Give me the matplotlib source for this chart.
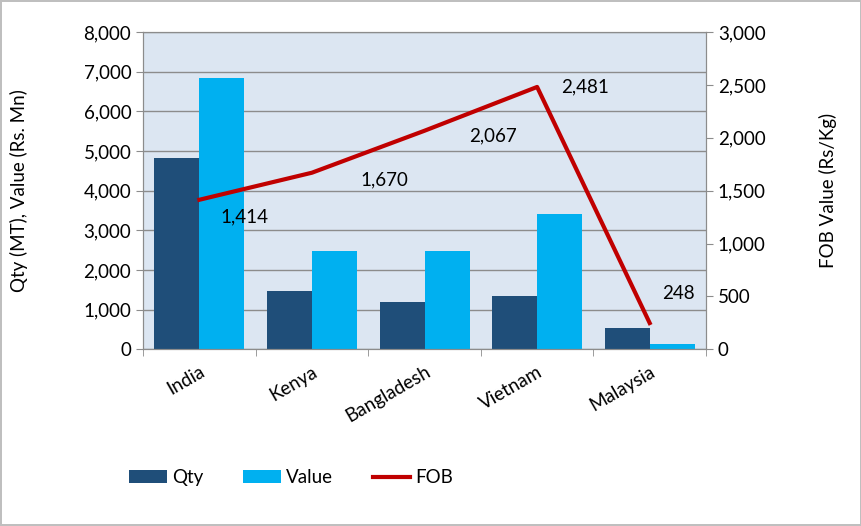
import numpy as np
import matplotlib.pyplot as plt
from matplotlib.ticker import FuncFormatter, FixedLocator

plt.rcParams['font.family'] = ['Lato', 'DejaVu Sans']

countries = ["India", "Kenya", "Bangladesh", "Vietnam", "Malaysia"]
qty = [4825, 1470, 1200, 1355, 545]
value = [6835, 2475, 2475, 3400, 130]
fob = [1414, 1670, 2067, 2481, 248]

c_qty = "#1F4E79"
c_val = "#00B0F0"
c_fob = "#C00000"
grid_c = "#8C8C8C"

fig = plt.figure(figsize=(8.62, 5.26), dpi=100)
fig.patch.set_edgecolor("#BFBFBF")
fig.patch.set_linewidth(1.5)
ax = fig.add_axes([0.166, 0.336, 0.653, 0.603])
ax.set_facecolor("#DCE6F2")

x = np.arange(len(countries))
w = 0.4
ax.bar(x - w / 2, qty, w, color=c_qty, label="Qty", zorder=2)
ax.bar(x + w / 2, value, w, color=c_val, label="Value", zorder=2)

ax.set_xlim(-0.5, len(countries) - 0.5)
ax.set_ylim(0, 8000)
ax.set_yticks(np.arange(0, 8001, 1000))
ax.yaxis.set_major_formatter(FuncFormatter(lambda v, p: f"{int(v):,}"))
ax.grid(axis="y", color=grid_c, linewidth=1, zorder=0)
ax.set_xticks(x)
ax.set_xticklabels(countries, rotation=30, ha="right", rotation_mode="anchor", fontsize=13.5)
ax.xaxis.set_minor_locator(FixedLocator(np.arange(-0.5, len(countries), 1)))
ax.tick_params(axis="x", which="major", length=0, pad=10)
ax.tick_params(axis="x", which="minor", length=5, color=grid_c)
ax.tick_params(axis="y", length=5, color=grid_c, labelsize=13.5)
ax.set_ylabel("Qty (MT), Value (Rs. Mn)", fontsize=13.5, labelpad=40)
for s in ax.spines.values():
    s.set_color(grid_c)

ax2 = ax.twinx()
ax2.plot(x, fob, color=c_fob, linewidth=3, label="FOB", zorder=3)
ax2.set_ylim(0, 3000)
ax2.set_yticks(np.arange(0, 3001, 500))
ax2.yaxis.set_major_formatter(FuncFormatter(lambda v, p: f"{int(v):,}"))
ax2.tick_params(axis="y", length=5, color=grid_c, labelsize=13.5)
ax2.set_ylabel("FOB Value (Rs/Kg)", fontsize=13.5, labelpad=38)
for s in ax2.spines.values():
    s.set_color(grid_c)

offsets = [(15, -12), (35, -5), (32, -4), (17, 0), (9, 21)]
for xi, v, off in zip(x, fob, offsets):
    ax2.annotate(f"{v:,}", (xi, v), xytext=off, textcoords="offset points",
                 ha="left", va="center", fontsize=13.5)

h1, l1 = ax.get_legend_handles_labels()
h2, l2 = ax2.get_legend_handles_labels()
fig.legend(h1 + h2, l1 + l2, loc="center left", bbox_to_anchor=(0.15, 0.092),
           ncol=3, frameon=False, fontsize=13.5, handlelength=2.0, columnspacing=2.1,
           handletextpad=0.3, borderaxespad=0, borderpad=0)

fig.savefig("out.png", dpi=100)
